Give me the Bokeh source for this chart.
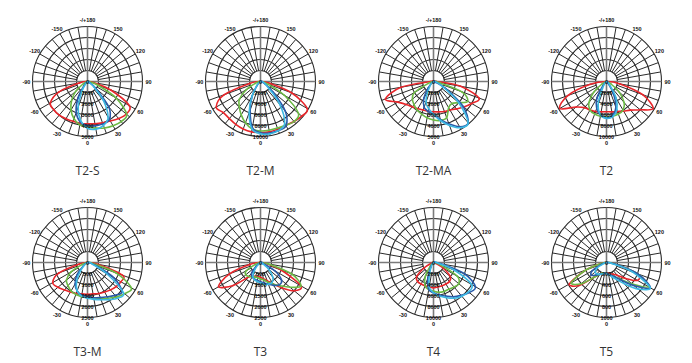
import numpy as np
from bokeh.plotting import figure
from bokeh.layouts import column, row
from bokeh.models import Range1d
from bokeh.core.properties import value
from bokeh.embed import file_html
from bokeh.resources import INLINE

# Vertical angle of each reading, degrees from nadir (negative = left half)
ANGLES = [-90, -80, -70, -60, -50, -40, -30, -20, -10, 0, 10, 20, 30, 40, 50, 60, 70, 80, 90]

NAMES = ["T2-S", "T2-M", "T2-MA", "T2", "T3-M", "T3", "T4", "T5"]
RING_MAX = [5000, 10000, 5000, 10000, 2500, 2500, 10000, 1000]

# Luminous intensity (cd) per distribution, four C-planes each
T2S_RED = [0, 750, 2750, 3900, 4000, 4000, 3900, 3850, 3850, 3850, 3900, 4000, 4150, 4400, 4600, 4400, 2250, 600, 0]
T2S_GREEN = [0, 0, 0, 500, 1400, 2250, 3000, 3600, 4000, 4150, 4300, 4500, 4650, 4750, 4650, 3000, 1000, 250, 0]
T2S_BLUE = [0, 0, 0, 0, 0, 500, 1750, 3000, 3750, 4000, 4100, 4100, 4000, 3000, 1000, 250, 0, 0, 0]
T2S_CYAN = [0, 0, 0, 0, 0, 250, 1000, 2500, 3600, 4250, 4400, 4250, 3750, 2250, 750, 150, 0, 0, 0]

T2M_RED = [0, 2000, 7000, 9300, 8800, 8800, 9000, 9200, 9300, 9300, 9300, 9200, 9200, 9500, 9800, 9800, 6000, 1500, 0]
T2M_GREEN = [0, 0, 1000, 3000, 5000, 6000, 7000, 8000, 8800, 9000, 9000, 9000, 9200, 9500, 9000, 5000, 1500, 0, 0]
T2M_BLUE = [0, 0, 0, 0, 0, 1000, 3000, 5500, 8500, 9300, 9500, 9500, 9300, 7000, 3000, 1000, 0, 0, 0]
T2M_CYAN = [0, 0, 0, 0, 0, 0, 3000, 6000, 8800, 9500, 9700, 9500, 8800, 5500, 2000, 0, 0, 0, 0]

T2MA_RED = [250, 3000, 4650, 3750, 3250, 3000, 2850, 2750, 2750, 2750, 2800, 2900, 3000, 3250, 3600, 4000, 4400, 2500, 250]
T2MA_GREEN = [0, 0, 500, 2000, 2500, 2750, 3000, 3150, 3350, 3500, 3600, 3500, 2750, 2600, 3000, 3600, 2750, 500, 0]
T2MA_BLUE = [0, 0, 0, 0, 0, 750, 1750, 2500, 2750, 3000, 3500, 4100, 4750, 4900, 3500, 1250, 250, 0, 0]
T2MA_CYAN = [0, 0, 0, 0, 0, 0, 1000, 2000, 2500, 3000, 3600, 4250, 4850, 4900, 3000, 1000, 0, 0, 0]

T2_RED = [0, 3000, 7500, 9800, 7200, 6200, 6000, 5800, 5600, 5500, 5600, 5800, 6200, 6800, 8000, 9800, 7000, 2500, 0]
T2_GREEN = [0, 0, 0, 1000, 3000, 5000, 6000, 6300, 6400, 6400, 6400, 6300, 6000, 5000, 3000, 1000, 0, 0, 0]
T2_BLUE = [0, 0, 0, 0, 0, 1000, 3500, 5200, 6200, 6600, 6300, 5000, 2500, 500, 0, 0, 0, 0, 0]
T2_CYAN = [0, 0, 0, 0, 0, 0, 1500, 4500, 6200, 6700, 6500, 5500, 3500, 1000, 0, 0, 0, 0, 0]

T3M_RED = [0, 375, 1375, 1825, 1750, 1625, 1550, 1500, 1450, 1450, 1450, 1500, 1550, 1625, 1700, 1750, 1700, 500, 0]
T3M_GREEN = [0, 0, 250, 875, 1250, 1375, 1500, 1550, 1575, 1600, 1650, 1750, 1875, 2050, 2200, 2300, 1375, 250, 0]
T3M_BLUE = [0, 0, 0, 0, 250, 750, 1125, 1375, 1500, 1550, 1625, 1700, 1800, 1950, 2050, 1375, 375, 0, 0]
T3M_CYAN = [0, 0, 0, 0, 0, 500, 1000, 1375, 1550, 1625, 1700, 1800, 1950, 2125, 2125, 1000, 250, 0, 0]

T3_RED = [0, 500, 1500, 2200, 1625, 875, 700, 675, 650, 675, 750, 875, 1125, 1500, 2000, 2125, 1000, 250, 0]
T3_GREEN = [0, 0, 250, 750, 875, 825, 750, 700, 700, 750, 800, 950, 1125, 1375, 1750, 2125, 1500, 375, 0]
T3_BLUE = [0, 0, 0, 0, 250, 625, 750, 800, 825, 875, 950, 1050, 1200, 1325, 1250, 750, 125, 0, 0]
T3_CYAN = [0, 0, 0, 0, 0, 375, 700, 825, 875, 925, 1000, 1050, 1050, 875, 500, 125, 0, 0, 0]

T4_RED = [0, 0, 500, 2000, 4000, 4500, 4500, 4500, 4500, 4600, 4500, 4500, 4500, 4500, 4000, 2000, 500, 0, 0]
T4_GREEN = [0, 0, 0, 0, 0, 1000, 3000, 4500, 5000, 5200, 5500, 5600, 5600, 5800, 6000, 5000, 1500, 0, 0]
T4_BLUE = [0, 0, 0, 0, 0, 0, 1000, 3000, 5000, 5500, 6000, 6500, 7200, 7800, 8500, 8800, 6000, 1500, 0]
T4_CYAN = [0, 0, 0, 0, 0, 0, 0, 2000, 4500, 5500, 6200, 6800, 7500, 8000, 8300, 8000, 4000, 1000, 0]

T5_RED = [0, 100, 400, 780, 650, 350, 250, 200, 200, 200, 200, 220, 250, 300, 450, 650, 600, 150, 0]
T5_GREEN = [0, 100, 400, 740, 600, 350, 250, 200, 200, 200, 220, 250, 300, 400, 600, 880, 600, 150, 0]
T5_BLUE = [0, 0, 100, 300, 360, 300, 250, 220, 200, 200, 220, 250, 300, 420, 650, 920, 600, 150, 0]
T5_CYAN = [0, 0, 50, 200, 270, 270, 250, 220, 200, 200, 220, 270, 350, 500, 750, 920, 500, 100, 0]

SERIES = [
    (T2S_RED, T2S_GREEN, T2S_BLUE, T2S_CYAN),
    (T2M_RED, T2M_GREEN, T2M_BLUE, T2M_CYAN),
    (T2MA_RED, T2MA_GREEN, T2MA_BLUE, T2MA_CYAN),
    (T2_RED, T2_GREEN, T2_BLUE, T2_CYAN),
    (T3M_RED, T3M_GREEN, T3M_BLUE, T3M_CYAN),
    (T3_RED, T3_GREEN, T3_BLUE, T3_CYAN),
    (T4_RED, T4_GREEN, T4_BLUE, T4_CYAN),
    (T5_RED, T5_GREEN, T5_BLUE, T5_CYAN),
]
COLORS = ["#e8262b", "#6cba45", "#2a5aa8", "#3cb8e2"]

ANGLE_TICKS = [-150, -120, -90, -60, -30, 0, 30, 60, 90, 120, 150, 180]
ANGLE_LABELS = ["-150", "-120", "-90", "-60", "-30", "0", "30", "60", "90", "120", "150", "-/+180"]

FONT = value("Liberation Sans")
CELL_W = 173
CELL_H = 181
R_PX = 55.0
CX_PX = 87
CY_PX = 81


def polar_xy(angle_deg, r):
    a = np.radians(np.asarray(angle_deg, dtype=float))
    r = np.asarray(r, dtype=float)
    return r * np.sin(a), -r * np.cos(a)


def smooth_segments(xs, ys):
    """Closed Catmull-Rom path through the points, as cubic Bezier pieces."""
    pts = []
    for x, y in zip(xs, ys):
        if not pts or abs(x - pts[-1][0]) + abs(y - pts[-1][1]) > 1e-9:
            pts.append((x, y))
    if len(pts) > 1 and abs(pts[0][0] - pts[-1][0]) + abs(pts[0][1] - pts[-1][1]) < 1e-9:
        pts.pop()
    P = np.array(pts)
    n = len(P)
    seg = {k: [] for k in ("x0", "y0", "x1", "y1", "cx0", "cy0", "cx1", "cy1")}
    for i in range(n):
        p0, p1, p2, p3 = P[(i - 1) % n], P[i], P[(i + 1) % n], P[(i + 2) % n]
        c1 = p1 + (p2 - p0) / 6.0
        c2 = p2 - (p3 - p1) / 6.0
        seg["x0"].append(p1[0]); seg["y0"].append(p1[1])
        seg["x1"].append(p2[0]); seg["y1"].append(p2[1])
        seg["cx0"].append(c1[0]); seg["cy0"].append(c1[1])
        seg["cx1"].append(c2[0]); seg["cy1"].append(c2[1])
    return seg


def make_cell(name, rmax, series):
    s = rmax / R_PX  # data units per pixel
    p = figure(width=CELL_W, height=CELL_H, output_backend="svg", toolbar_location=None,
               x_axis_type=None, y_axis_type=None, min_border=0,
               x_range=Range1d(-CX_PX * s, (CELL_W - CX_PX) * s),
               y_range=Range1d(-(CELL_H - CY_PX) * s, CY_PX * s))
    p.grid.visible = False
    p.outline_line_color = None
    p.background_fill_color = "white"
    p.border_fill_color = "white"

    rings = [rmax * k / 5 for k in range(1, 6)]
    grid_col = "#2b2b2b"
    # concentric rings
    p.circle(x=[0] * len(rings), y=[0] * len(rings), radius=rings,
             fill_color=None, line_color=grid_col, line_width=1.1)
    # radial spokes every 10 degrees, from the innermost ring outward
    spokes = [a for a in range(0, 360, 10) if a % 90 != 0]
    x0, y0 = polar_xy(spokes, [rings[0]] * len(spokes))
    x1, y1 = polar_xy(spokes, [rmax] * len(spokes))
    p.segment(x0=x0, y0=y0, x1=x1, y1=y1, line_color=grid_col, line_width=1)
    # main axes through the centre
    p.segment(x0=[-rmax, 0], y0=[0, -rmax], x1=[rmax, 0], y1=[0, rmax],
              line_color="#7a7a7a", line_width=1.6)

    # intensity curves
    for vals, col in zip(series, COLORS):
        xs, ys = polar_xy(ANGLES, vals)
        seg = smooth_segments(xs, ys)
        p.bezier(line_color=col, line_width=1.6, line_cap="round", **seg)

    # ring values along the nadir axis
    p.text(x=[0] * 6, y=[0] + [-r for r in rings], text=["0"] + [f"{int(r)}" for r in rings],
           text_font=FONT, text_font_size="5.5px", text_font_style="bold",
           text_align="center", text_baseline="middle", text_color="#111111")

    # angle labels around the rim
    lx, ly = polar_xy(ANGLE_TICKS, [rmax * 1.11] * len(ANGLE_TICKS))
    p.text(x=lx, y=ly, text=ANGLE_LABELS, text_font=FONT, text_font_size="5.5px",
           text_font_style="bold", text_align="center", text_baseline="middle",
           text_color="#111111")

    # distribution name
    p.text(x=[0], y=[-89 * s], text=[name], text_font=value("Open Sans"),
           text_font_size="12px", text_align="center", text_baseline="middle",
           text_color="#333333")
    return p


cells = [make_cell(n, m, sr) for n, m, sr in zip(NAMES, RING_MAX, SERIES)]
layout = column(row(*cells[:4], spacing=0), row(*cells[4:], spacing=0), spacing=0)

with open("out.html", "w") as f:
    f.write(file_html(layout, INLINE))
